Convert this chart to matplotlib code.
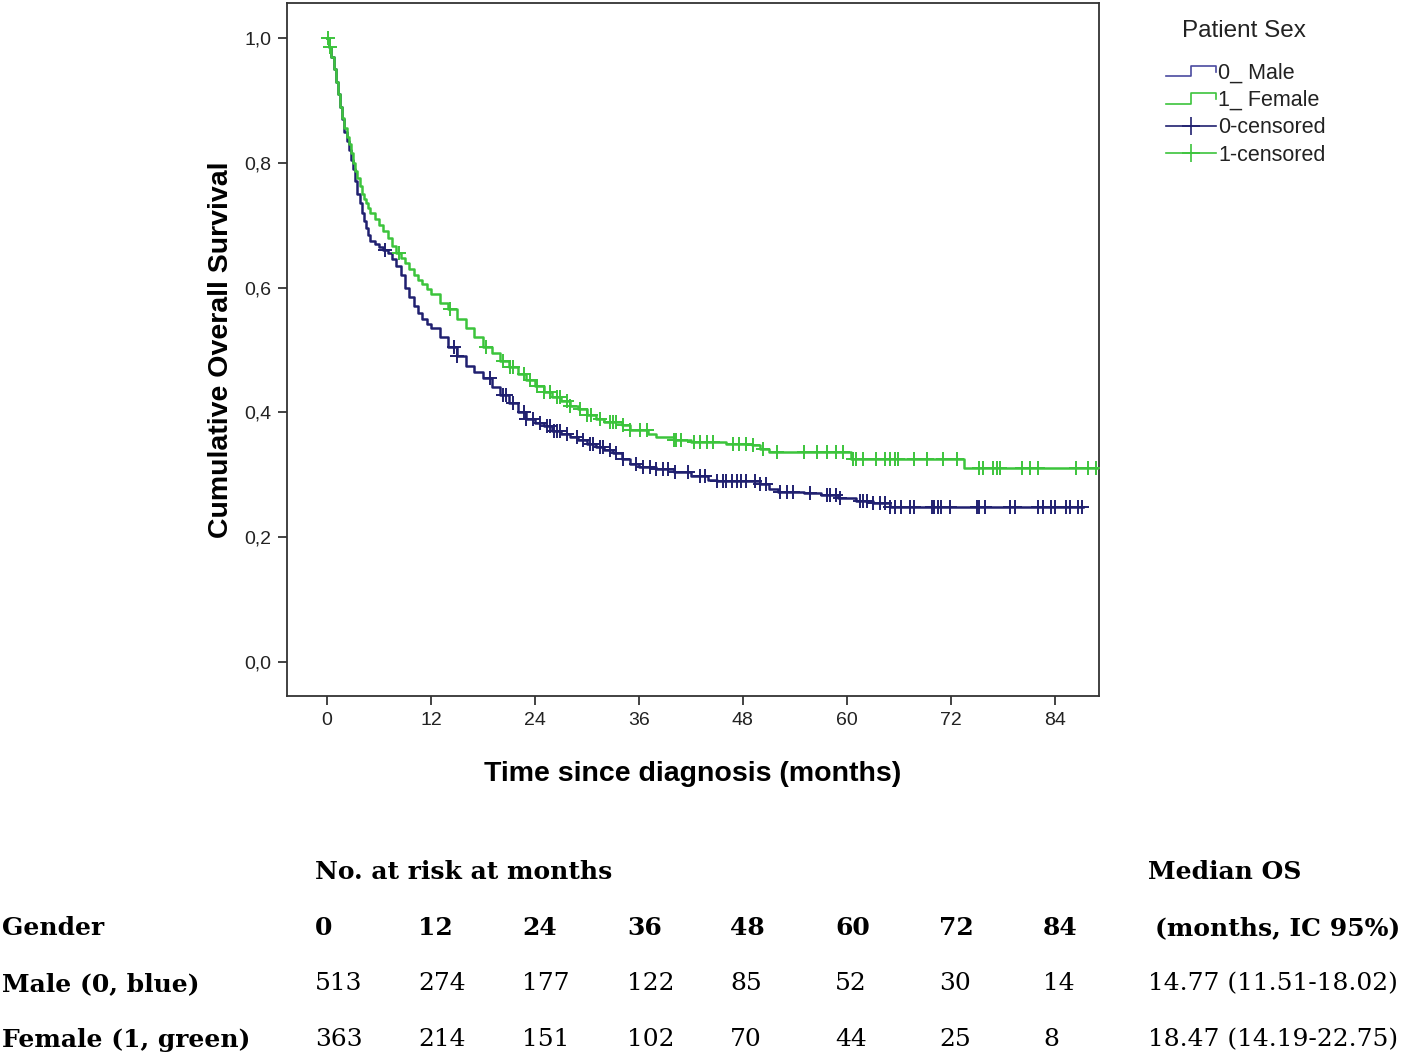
import matplotlib
matplotlib.use("Agg")
import matplotlib.pyplot as plt
import numpy as np
from matplotlib.legend_handler import HandlerBase
from matplotlib.lines import Line2D
from matplotlib.ticker import FuncFormatter

# Kaplan-Meier curves (months, survival)
male_t = [0, 0.25, 0.5, 0.75, 1, 1.25, 1.5, 1.75, 2, 2.25, 2.5, 2.75, 3, 3.25, 3.5, 3.75,
          4, 4.25, 4.5, 4.75, 5, 5.5, 6, 6.5, 7, 7.5, 8, 8.5, 9, 9.5, 10, 10.5, 11, 11.5,
          12, 13, 14, 15, 16, 17, 18, 19, 20, 21, 22, 23, 24, 25, 26, 27, 28, 29, 30,
          31, 32, 33, 34, 35, 36, 38, 40, 42, 44, 45, 50, 51, 52, 55, 57, 59, 61, 63, 65]
male_s = [1.0, 0.985, 0.97, 0.95, 0.93, 0.91, 0.89, 0.87, 0.85, 0.835, 0.82, 0.805, 0.79,
          0.77, 0.75, 0.735, 0.72, 0.707, 0.695, 0.685, 0.675, 0.67, 0.665, 0.66, 0.655,
          0.645, 0.635, 0.62, 0.60, 0.585, 0.57, 0.56, 0.55, 0.542, 0.535, 0.52, 0.505,
          0.49, 0.475, 0.465, 0.455, 0.44, 0.428, 0.415, 0.40, 0.39, 0.383, 0.378, 0.37,
          0.365, 0.36, 0.355, 0.35, 0.345, 0.34, 0.335, 0.325, 0.318, 0.313, 0.31, 0.305,
          0.298, 0.292, 0.29, 0.285, 0.278, 0.273, 0.27, 0.268, 0.262, 0.258, 0.255, 0.248]
male_end = 87.2

female_t = [0, 0.25, 0.5, 0.75, 1, 1.25, 1.5, 1.75, 2, 2.25, 2.5, 2.75, 3, 3.25, 3.5,
            3.75, 4, 4.25, 4.5, 4.75, 5, 5.5, 6, 6.5, 7, 7.5, 8, 8.5, 9, 9.5, 10, 10.5, 11,
            11.5, 12, 13, 14, 15, 16, 17, 18, 19, 20, 21, 22, 23, 24, 25, 26, 27, 28, 29,
            30, 31, 32, 34, 35, 37, 38, 40, 42, 46, 49, 50, 51, 60.5, 73.5]
female_s = [1.0, 0.985, 0.97, 0.95, 0.93, 0.91, 0.89, 0.872, 0.855, 0.842, 0.83, 0.815,
            0.80, 0.787, 0.775, 0.762, 0.75, 0.742, 0.735, 0.727, 0.72, 0.71, 0.70, 0.69,
            0.68, 0.667, 0.655, 0.647, 0.64, 0.63, 0.62, 0.612, 0.605, 0.597, 0.59, 0.575,
            0.565, 0.55, 0.535, 0.52, 0.505, 0.495, 0.482, 0.472, 0.462, 0.452, 0.442,
            0.432, 0.425, 0.418, 0.41, 0.405, 0.395, 0.39, 0.385, 0.38, 0.372, 0.365, 0.36,
            0.355, 0.352, 0.35, 0.348, 0.342, 0.337, 0.325, 0.311]
female_end = 89.5

male_censor = [6.7, 14.6, 15.0, 18.8, 20.3, 20.7, 21.5, 22.7, 23.0, 23.8, 24.6, 25.4, 25.7,
               26.2, 26.5, 26.9, 27.7, 28.8, 29.6, 30.4, 30.7, 31.5, 31.9, 32.7, 33.4, 34.2,
               35.7, 36.5, 37.3, 38.0, 38.8, 39.4, 40.2, 41.7, 43.1, 43.6, 45.0, 45.7, 46.1,
               46.7, 47.3, 47.8, 48.4, 49.4, 50.0, 50.7, 52.3, 53.1, 53.8, 55.7, 57.7, 58.1,
               58.8, 59.2, 61.5, 61.9, 62.3, 63.0, 63.8, 64.4, 65.0, 65.5, 66.3, 67.3, 67.8,
               69.8, 70.1, 70.5, 70.9, 71.9, 75.0, 75.3, 75.9, 78.8, 79.4, 82.1, 82.6, 83.6,
               84.0, 85.3, 85.7, 86.7, 87.1]
female_censor = [0.1, 0.4, 8.3, 14.2, 18.4, 20.3, 21.1, 21.5, 22.7, 23.4, 24.2, 25.0, 25.7,
                 26.5, 26.9, 27.7, 28.0, 29.2, 30.0, 30.5, 31.5, 32.7, 33.0, 33.4, 34.2, 35.0,
                 36.1, 36.9, 40.0, 40.3, 40.9, 42.3, 43.0, 43.8, 44.6, 46.9, 47.5, 48.4, 49.2,
                 50.3, 51.9, 55.0, 56.5, 57.7, 58.8, 59.6, 60.7, 61.1, 61.9, 63.4, 64.4, 65.0,
                 65.5, 65.9, 67.8, 69.2, 71.1, 72.7, 75.3, 75.7, 76.9, 77.3, 77.7, 80.2, 81.1,
                 82.1, 86.5, 87.8, 88.8]

# number at risk table
risk_months = [0, 12, 24, 36, 48, 60, 72, 84]
male_risk = [513, 274, 177, 122, 85, 52, 30, 14]
female_risk = [363, 214, 151, 102, 70, 44, 25, 8]
median_os = ["14.77 (11.51-18.02)", "18.47 (14.19-22.75)"]
row_labels = ["Male (0, blue)", "Female (1, green)"]

BLUE = "#202070"
GREEN = "#3cc43c"
W, H = 1418, 1060


def surv_at(times, surv, t):
    i = np.searchsorted(times, t, side="right") - 1
    return np.asarray(surv)[i]


class StepHandler(HandlerBase):
    def create_artists(self, legend, orig_handle, xdescent, ydescent, width, height,
                       fontsize, trans):
        x0, x1 = -xdescent, -xdescent + width
        ylo = -ydescent + 0.15 * height
        yhi = -ydescent + 0.85 * height
        xm = x0 + 0.5 * width
        line = Line2D([x0, xm, xm, x1, x1], [ylo, ylo, yhi, yhi, ylo + 0.3 * height],
                      color=orig_handle.get_color(), lw=1.2, transform=trans)
        return [line]


plt.rcParams["font.family"] = ["Liberation Sans", "DejaVu Sans"]

fig = plt.figure(figsize=(W / 100, H / 100), dpi=100)
ax = fig.add_axes([287 / W, 1 - 696 / H, (1099 - 287) / W, (696 - 3) / H])

for times, surv, end, cens, col in [(male_t, male_s, male_end, male_censor, BLUE),
                                    (female_t, female_s, female_end, female_censor, GREEN)]:
    ax.step(times + [end], surv + [surv[-1]], where="post", color=col, lw=1.8, zorder=3)
    ax.plot(cens, surv_at(times, surv, cens), ls="none", marker="+", ms=10, mew=1.4,
            color=col, zorder=4)

ax.set_xlim(-4.62, 89.1)
ax.set_ylim(-0.0545, 1.056)
ax.set_xticks(risk_months)
ax.set_yticks([0, 0.2, 0.4, 0.6, 0.8, 1.0])
ax.yaxis.set_major_formatter(FuncFormatter(lambda v, p: f"{v:.1f}".replace(".", ",")))
ax.tick_params(direction="out", length=6.5, width=1.2, labelsize=14, pad=5,
               colors="#222222")
for sp in ax.spines.values():
    sp.set_linewidth(1.3)
    sp.set_color("#333333")

ax.set_xlabel("Time since diagnosis (months)", fontsize=20.5, fontweight="bold")
ax.set_ylabel("Cumulative Overall Survival", fontsize=20.5, fontweight="bold")
ax.xaxis.set_label_coords(0.5, -(761 - 696) / 693)
ax.yaxis.set_label_coords((234 - 287) / 812, 0.5)

fig.text(1244 / W, 1 - 31 / H, "Patient Sex", fontsize=17.5, ha="center", va="center",
         color="#222222")
handles = [Line2D([], [], color="#4a4aa0"), Line2D([], [], color=GREEN),
           Line2D([], [], color=BLUE, marker="+", ms=13, mew=1.2, lw=1.2),
           Line2D([], [], color=GREEN, marker="+", ms=13, mew=1.2, lw=1.2)]
labels = ["0_ Male", "1_ Female", "0-censored", "1-censored"]
leg = fig.legend(handles, labels, loc="upper left", bbox_to_anchor=(1147 / W, 1 - 43 / H),
                 frameon=False, fontsize=15.5, handlelength=2.3, handletextpad=0.1,
                 labelspacing=0.3,
                 handler_map={handles[0]: StepHandler(), handles[1]: StepHandler()})
for t in leg.get_texts():
    t.set_color("#222222")

# at-risk table
serif = ["DejaVu Serif"]
col_x = [315, 418, 522, 627, 730, 835, 939, 1043]
fs = 18


def put(x, y, s, bold=False):
    fig.text(x / W, 1 - y / H, s, fontsize=fs, family=serif,
             fontweight="bold" if bold else "normal", va="center", ha="left")


put(315, 872, "No. at risk at months", bold=True)
put(1148, 872, "Median OS", bold=True)
put(2, 928, "Gender", bold=True)
for x, m in zip(col_x, risk_months):
    put(x, 928, str(m), bold=True)
put(1155, 928, "(months, IC 95%)", bold=True)
for y, lab, vals, med in zip([984, 1040], row_labels, [male_risk, female_risk], median_os):
    put(2, y, lab, bold=True)
    for x, v in zip(col_x, vals):
        put(x, y, str(v))
    put(1148, y, med)

fig.savefig("out.png", dpi=100, facecolor="white")
